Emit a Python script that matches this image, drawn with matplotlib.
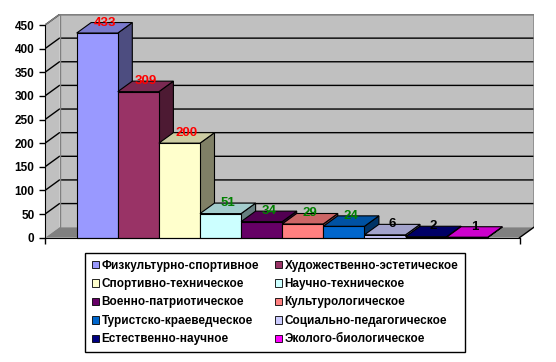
import matplotlib.pyplot as plt
from matplotlib.patches import Polygon, Patch

plt.rcParams['font.family'] = ['Liberation Sans', 'DejaVu Sans']

categories = ["Физкультурно-спортивное", "Художественно-эстетическое",
              "Спортивно-техническое", "Научно-техническое",
              "Военно-патриотическое", "Культурологическое",
              "Туристско-краеведческое", "Социально-педагогическое",
              "Естественно-научное", "Эколого-биологическое"]
values = [433, 309, 200, 51, 34, 29, 24, 6, 2, 1]
colors = ["#9999FF", "#993366", "#FFFFCC", "#CCFFFF", "#660066",
          "#FF8080", "#0066CC", "#CCCCFF", "#000080", "#FF00FF"]
label_colors = ["red", "red", "red", "#008000", "#008000",
                "#008000", "#008000", "black", "black", "black"]
yticks = list(range(0, 451, 50))

W, H = 556, 362
fig = plt.figure(figsize=(W / 100, H / 100), dpi=100)

# axes box in pixels: left 45, right 534, top 14, bottom 242
ax = fig.add_axes([45 / W, (H - 242) / H, 489 / W, 228 / H])
k = (237.7 - 25) / 450          # px per unit
bw = 41.1                       # px per bar
x_left = -0.5 - (76.7 - 45) / bw
x_right = x_left + 489 / bw
ax.set_xlim(x_left, x_right)
ax.set_ylim(-(242 - 237.7) / k, (237.7 - 14) / k)

DX = 14.5 / bw
DY = 10.5 / k
xL, xR = x_left, x_right - DX
top = 450

wall = "#C0C0C0"
edge_gray = "#808080"
# back wall and left wall
ax.add_patch(Polygon([(xL + DX, DY), (xR + DX, DY), (xR + DX, top + DY), (xL + DX, top + DY)],
                     closed=True, fc=wall, ec="none", zorder=1))
ax.add_patch(Polygon([(xL, 0), (xL + DX, DY), (xL + DX, top + DY), (xL, top)],
                     closed=True, fc=wall, ec="none", zorder=1))
# floor
ax.add_patch(Polygon([(xL, 0), (xR, 0), (xR + DX, DY), (xL + DX, DY)],
                     closed=True, fc="#808080", ec="none", zorder=1))
# gridlines
for v in yticks[1:]:
    ax.plot([xL, xL + DX, xR + DX], [v, v + DY, v + DY], color="black", lw=1, zorder=2)
# wall outlines
ax.plot([xL, xL + DX, xR + DX, xR + DX], [top, top + DY, top + DY, DY],
        color=edge_gray, lw=1, zorder=2)
ax.plot([xL + DX, xL + DX], [DY, top + DY], color=edge_gray, lw=1, zorder=2)
ax.plot([xR, xR + DX], [0, DY], color="black", lw=1, zorder=2)


def shade(c, f):
    r, g, b = plt.matplotlib.colors.to_rgb(c)
    return (r * f, g * f, b * f)


for i, (v, c) in enumerate(zip(values, colors)):
    a, b = i - 0.5, i + 0.5
    z = 3 + i
    ax.add_patch(Polygon([(b, 0), (b + DX, DY), (b + DX, v + DY), (b, v)],
                         closed=True, fc=shade(c, 0.5), ec="black", lw=0.8, zorder=z))
    ax.add_patch(Polygon([(a, v), (b, v), (b + DX, v + DY), (a + DX, v + DY)],
                         closed=True, fc=shade(c, 0.8), ec="black", lw=0.8, zorder=z))
    ax.add_patch(Polygon([(a, 0), (b, 0), (b, v), (a, v)],
                         closed=True, fc=c, ec="black", lw=0.8, zorder=z))
    ax.text(i + DX / 2, v + DY, str(v), color=label_colors[i], fontsize=9.5,
            fontweight="bold", ha="center", va="center", zorder=20)

for s in ["top", "right"]:
    ax.spines[s].set_visible(False)
ax.spines["left"].set_bounds(0, 450)
ax.spines["bottom"].set_position(("data", 0))
ax.spines["bottom"].set_bounds(xL, xR)
for s in ["left", "bottom"]:
    ax.spines[s].set_zorder(30)
ax.set_yticks(yticks)
ax.set_xticks([xL, xR])
ax.set_xticklabels([])
ax.tick_params(axis="both", direction="out", length=4, width=1)
for t in ax.get_yticklabels():
    t.set_fontsize(8.5)
    t.set_fontweight("bold")
ax.patch.set_visible(False)

order = [0, 2, 4, 6, 8, 1, 3, 5, 7, 9]
handles = [Patch(fc=colors[j], ec="black", lw=0.6) for j in order]
labels = [categories[j] for j in order]
leg = fig.legend(handles, labels, ncol=2, loc="center",
                 bbox_to_anchor=(275 / W, 1 - 302.5 / H),
                 prop={"size": 8.5, "weight": "bold"},
                 fancybox=False, edgecolor="black", framealpha=1,
                 handlelength=0.6, handleheight=0.6, handletextpad=0.25,
                 labelspacing=0.55, columnspacing=1.3, borderpad=0.55)
leg.get_frame().set_linewidth(1)

fig.savefig("out.png", dpi=100)
